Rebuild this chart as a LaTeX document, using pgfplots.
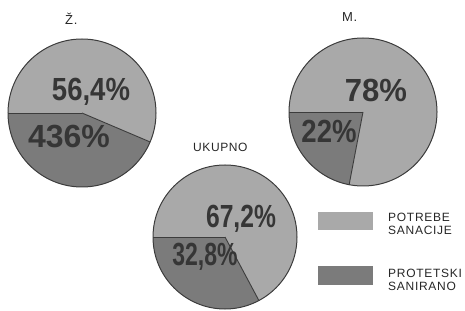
\documentclass[border=0pt]{standalone}
\usepackage{pgfplots}
\usepackage{pgfplotstable}
\usepackage{graphicx}
\usepackage{fontspec}
\pgfplotsset{compat=1.18}
\setmainfont{Liberation Sans}
\newfontfamily\legfont{Liberation Sans}[LetterSpace=6]
\newfontfamily\titfont{Liberation Sans}[LetterSpace=5]
\definecolor{lightfill}{HTML}{A9A9A9}
\definecolor{darkfill}{HTML}{7B7B7B}
\definecolor{labtext}{HTML}{363636}
\definecolor{edge}{HTML}{3C3C3C}

% pie  cx  cy  r   potrebe  protetski
\pgfplotstableread{
pie cx  cy  r  san  pro
Z   82  197 74 56.4 43.6
M   363 198 74 78   22
U   225 73  72 67.2 32.8
}\piedata

\newcommand\getpie[2]{%
  \pgfplotstablegetelem{#1}{cx}\of\piedata\expandafter\let\csname cx#2\endcsname\pgfplotsretval
  \pgfplotstablegetelem{#1}{cy}\of\piedata\expandafter\let\csname cy#2\endcsname\pgfplotsretval
  \pgfplotstablegetelem{#1}{r}\of\piedata\expandafter\let\csname r#2\endcsname\pgfplotsretval
  \pgfplotstablegetelem{#1}{pro}\of\piedata\expandafter\let\csname pro#2\endcsname\pgfplotsretval
}
\getpie{0}{Z}\getpie{1}{M}\getpie{2}{U}

% #1 cx, #2 cy, #3 r, #4 protetski percent
\newcommand\drawpie[4]{%
  \fill[darkfill] (axis cs:#1,#2) -- ++(180:#3pt) arc[start angle=180, end angle={180+3.6*#4}, radius=#3pt] -- cycle;
  \fill[lightfill] (axis cs:#1,#2) -- ++({180+3.6*#4}:#3pt) arc[start angle={180+3.6*#4}, end angle=540, radius=#3pt] -- cycle;
  \draw[edge, line width=0.9pt] (axis cs:#1,#2) -- ++(180:#3pt);
  \draw[edge, line width=0.9pt] (axis cs:#1,#2) -- ++({180+3.6*#4}:#3pt);
  \draw[edge, line width=1pt] (axis cs:#1,#2) circle[radius=#3pt];
}
\newcommand\biglab[1]{\fontsize{32}{32}\selectfont\bfseries #1}

\begin{document}
\begin{tikzpicture}
\path[use as bounding box] (0,0) rectangle (465pt,310pt);
\begin{axis}[x=1pt, y=1pt, xmin=0, xmax=465, ymin=0, ymax=310,
  hide axis, clip=false, anchor=origin, at={(0,0)}]
\drawpie{\cxZ}{\cyZ}{\rZ}{\proZ}
\drawpie{\cxM}{\cyM}{\rM}{\proM}
\drawpie{\cxU}{\cyU}{\rU}{\proU}

% titles
\node[anchor=base west, inner sep=0pt, font=\titfont\fontsize{13}{13}\selectfont, text=black!85] at (axis cs:65,285) {Ž.};
\node[anchor=base west, inner sep=0pt, font=\titfont\fontsize{13}{13}\selectfont, text=black!85] at (axis cs:342,288) {M.};
\node[anchor=base west, inner sep=0pt, font=\titfont\fontsize{12}{12}\selectfont, text=black!85] at (axis cs:193,158) {UKUPNO};

% percentage labels
\node[text=labtext] at (axis cs:91,218) {\scalebox{0.86}[1]{\biglab{56,4\%}}};
\node[text=labtext] at (axis cs:69,173) {\scalebox{1.0}[1]{\biglab{436\%}}};
\node[text=labtext] at (axis cs:376,220) {\scalebox{0.97}[1]{\biglab{78\%}}};
\node[text=labtext] at (axis cs:329,179) {\scalebox{0.86}[1]{\biglab{22\%}}};
\node[text=labtext] at (axis cs:241,91) {\scalebox{0.77}[1]{\biglab{67,2\%}}};
\node[text=labtext] at (axis cs:205,53) {\scalebox{0.72}[1]{\biglab{32,8\%}}};

% legend
\fill[lightfill] (axis cs:318,80) rectangle (axis cs:373,98);
\fill[darkfill] (axis cs:318,25) rectangle (axis cs:373,44);
\node[anchor=base west, inner sep=0pt, font=\legfont\fontsize{12}{12}\selectfont, text=black!85] at (axis cs:388,88) {POTREBE};
\node[anchor=base west, inner sep=0pt, font=\legfont\fontsize{12}{12}\selectfont, text=black!85] at (axis cs:388,75) {SANACIJE};
\node[anchor=base west, inner sep=0pt, font=\legfont\fontsize{12}{12}\selectfont, text=black!85] at (axis cs:388,32) {PROTETSKI};
\node[anchor=base west, inner sep=0pt, font=\legfont\fontsize{12}{12}\selectfont, text=black!85] at (axis cs:388,19) {SANIRANO};
\end{axis}
\end{tikzpicture}
\end{document}
